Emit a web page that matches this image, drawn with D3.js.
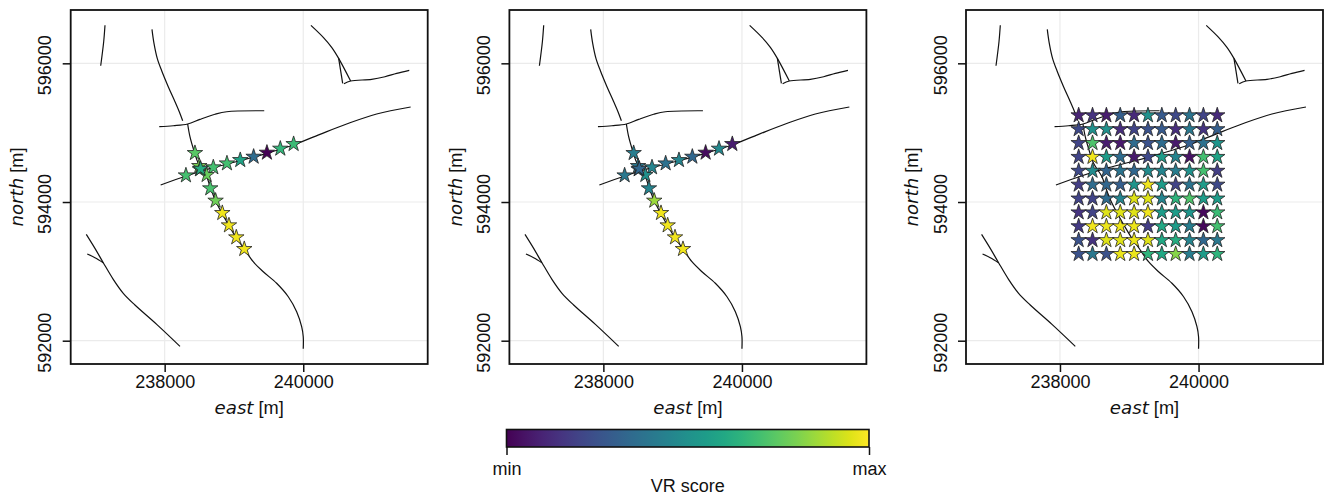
<!DOCTYPE html>
<html>
<head>
<meta charset="utf-8">
<script src="https://cdn.jsdelivr.net/npm/d3@7"></script>
<style>
  html, body { margin: 0; padding: 0; background: #fff; }
  svg { display: block; }
  text { font-family: "Liberation Sans", sans-serif; fill: #111; }
  .ital { font-family: "DejaVu Sans", sans-serif; font-style: italic; }
</style>
</head>
<body>
<svg id="chart" width="1325" height="496"></svg>
<script>
// fault traces, [east, north] in metres
const faultA = [[237139,596548],[237120,596311],[237077,595965]];
const faultB1 = [[237817,596490],[237846,596288],[237893,596072],[237957,595893],[238052,595663],[238149,595446],[238211,595302],[238260,595172]];
const faultB2 = [[238332,595125],[238365,594942],[238427,594725],[238485,594558],[238606,594365],[238664,594197],[238736,594014],[238827,593837],[238928,593658],[239033,593485],[239149,593322],[239278,593139],[239423,592995],[239616,592828],[239784,592634],[239905,592418],[239977,592202],[240000,592058],[240000,591885]];
const faultC = [[237922,595086],[238124,595100],[238332,595125],[238509,595192],[238726,595265],[238895,595302],[239437,595316]];
const faultD = [[237942,594245],[238317,594379],[238701,594495],[239087,594595],[239472,594702],[239856,594822],[240241,594976],[240626,595125],[241059,595269],[241550,595370]];
const faultE = [[240111,596548],[240289,596375],[240410,596231],[240511,596072],[240684,595745]];
const faultE2 = [[240511,596072],[240569,595712]];
const faultE3 = [[240587,595706],[240684,595745],[240987,595769],[241179,595807],[241348,595856],[241530,595899]];
const faultF = [[236869,593534],[236994,593332],[237114,593125],[237258,592885],[237403,592683],[237571,592515],[237885,592236],[238221,591919]];
const faultF2 = [[236883,593250],[236994,593197],[237114,593125]];
const faults = [faultA, faultB1, faultB2, faultC, faultD, faultE, faultE2, faultE3, faultF, faultF2];

// stations along the two profiles
const stationEast = [238307,238702,238899,239091,239284,239476,239669,239861,238437,238500,238606,238658,238735,238832,238928,239034,239149,238509,238519];
const stationNorth = [594384,594500,594557,594605,594653,594711,594769,594836,594706,594519,594389,594197,594019,593841,593663,593490,593322,594471,594480];
const scoreLeft = [0.7,0.7,0.7,0.58,0.35,0,0.66,0.68,0.74,0.8,0.77,0.71,0.78,0.98,0.98,0.98,0.98,0.7,0.62];
const scoreMiddle = [0.4,0.45,0.37,0.45,0.33,0.03,0.47,0.08,0.42,0.4,0.5,0.45,0.85,0.98,0.98,0.98,0.98,0.36,0.33];

// regular station grid of the right panel
const gridEast = [238270,238470,238670,238870,239070,239270,239470,239670,239870,240070,240270];
const gridNorth = [595250,595050,594850,594650,594450,594250,594050,593850,593650,593450,593250];
const gridScore = [
  [0.1,0.15,0.08,0.3,0.12,0.5,0.28,0.22,0.38,0.2,0.12],
  [0.22,0.5,0.5,0.13,0.2,0.25,0.28,0.13,0.4,0.15,0.3],
  [0.2,0.72,0.08,0.07,0.35,0.25,0.35,0.07,0.3,0.37,0.52],
  [0.2,0.98,0.55,0.35,0.07,0.22,0.55,0.45,0.05,0.7,0.58],
  [0.22,0.48,0.32,0.38,0.33,0.48,0.45,0.42,0.5,0.7,0.18],
  [0.18,0.35,0.33,0.3,0.52,0.98,0.55,0.2,0.38,0.55,0.22],
  [0.2,0.2,0.35,0.45,0.95,0.95,0.45,0.65,0.72,0.55,0.55],
  [0.15,0.2,0.95,0.95,0.95,0.98,0.55,0.55,0.52,0.02,0.68],
  [0.17,0.98,0.97,0.97,0.97,0.18,0.6,0.55,0.42,0.02,0.7],
  [0.25,0.15,0.95,0.95,0.97,0.95,0.6,0.62,0.45,0.33,0.4],
  [0.25,0.4,0.25,0.97,0.97,0.65,0.6,0.82,0.42,0.55,0.65]
];

const xTicks = [238000, 240000];
const yTicks = [592000, 594000, 596000];
const cbarTicks = [0, 1];
const cbarLabels = ["min", "max"];

const xDomain = [236644, 241796];
const yDomain = [591664, 596769];
const panelLefts = [70.7, 509.4, 966];
const panelW = 357, panelTop = 10, panelH = 354;

const svg = d3.select("#chart");
const color = d3.scaleSequential(d3.interpolateViridis).domain([0, 1]);
const x = d3.scaleLinear().domain(xDomain).range([0, panelW]);
const y = d3.scaleLinear().domain(yDomain).range([panelH, 0]);
const line = d3.line().x(d => x(d[0])).y(d => y(d[1]));
const star = d3.symbol().type(d3.symbolStar).size(74);

const stationSets = [
  stationEast.map((e, i) => ({ e, n: stationNorth[i], v: scoreLeft[i] })),
  stationEast.map((e, i) => ({ e, n: stationNorth[i], v: scoreMiddle[i] })),
  gridNorth.flatMap((n, r) => gridEast.map((e, c) => ({ e, n, v: gridScore[r][c] })))
];

panelLefts.forEach((left, i) => {
  const g = svg.append("g").attr("transform", `translate(${left},${panelTop})`);

  // grid
  g.selectAll(".gx").data(xTicks).enter().append("line")
    .attr("x1", d => x(d)).attr("x2", d => x(d)).attr("y1", 0).attr("y2", panelH)
    .attr("stroke", "#ebebeb").attr("stroke-width", 1.2);
  g.selectAll(".gy").data(yTicks).enter().append("line")
    .attr("y1", d => y(d)).attr("y2", d => y(d)).attr("x1", 0).attr("x2", panelW)
    .attr("stroke", "#ebebeb").attr("stroke-width", 1.2);

  g.selectAll(".fault").data(faults).enter().append("path")
    .attr("class", "fault")
    .attr("d", line.curve(d3.curveCatmullRom))
    .attr("fill", "none").attr("stroke", "#111").attr("stroke-width", 1.2);

  g.selectAll(".stn").data(stationSets[i]).enter().append("path")
    .attr("class", "stn")
    .attr("d", star)
    .attr("transform", d => `translate(${x(d.e)},${y(d.n)})`)
    .attr("fill", d => color(d.v))
    .attr("stroke", "#222").attr("stroke-width", 0.8);

  g.append("rect").attr("width", panelW).attr("height", panelH)
    .attr("fill", "none").attr("stroke", "#111").attr("stroke-width", 1.8);

  const xAxis = g.append("g").attr("transform", `translate(0,${panelH})`)
    .call(d3.axisBottom(x).tickValues(xTicks).tickSize(8).tickPadding(3).tickFormat(d3.format("d")));
  const yAxis = g.append("g")
    .call(d3.axisLeft(y).tickValues(yTicks).tickSize(8).tickPadding(4).tickFormat(d3.format("d")));
  xAxis.select(".domain").remove();
  yAxis.select(".domain").remove();
  xAxis.selectAll("line").attr("stroke", "#111").attr("stroke-width", 1.5);
  yAxis.selectAll("line").attr("stroke", "#111").attr("stroke-width", 1.5);
  xAxis.selectAll("text").style("font-size", "18px").attr("fill", "#111");
  yAxis.selectAll("text").style("font-size", "18px").attr("fill", "#111")
    .attr("transform", "rotate(-90)")
    .attr("x", -1.5).attr("dy", 0)
    .attr("y", -19.5)
    .attr("text-anchor", "middle");

  const xl = g.append("text").attr("x", panelW / 2).attr("y", panelH + 50)
    .attr("text-anchor", "middle").style("font-size", "18.2px");
  xl.append("tspan").attr("class", "ital").text("east");
  xl.append("tspan").text(" [m]");

  const yl = g.append("text").attr("text-anchor", "middle")
    .attr("transform", `translate(-47.7,${panelH / 2}) rotate(-90)`).style("font-size", "18.2px");
  yl.append("tspan").attr("class", "ital").text("north");
  yl.append("tspan").text(" [m]");
});

// colorbar
const cbarLeft = 506.5, cbarW = 362.5, cbarTop = 429.5, cbarH = 17.5;
const grad = svg.append("defs").append("linearGradient").attr("id", "viridis");
d3.range(0, 1.001, 0.05).forEach(t => {
  grad.append("stop").attr("offset", t).attr("stop-color", color(t));
});
const cbar = svg.append("g").attr("transform", `translate(${cbarLeft},${cbarTop})`);
cbar.append("rect").attr("width", cbarW).attr("height", cbarH)
  .attr("fill", "url(#viridis)").attr("stroke", "#111").attr("stroke-width", 1.6);
const cx = d3.scaleLinear().domain([0, 1]).range([0, cbarW]);
const cAxis = cbar.append("g").attr("transform", `translate(0,${cbarH})`)
  .call(d3.axisBottom(cx).tickValues(cbarTicks).tickSize(8).tickPadding(7).tickFormat((d, i) => cbarLabels[i]));
cAxis.select(".domain").remove();
cAxis.selectAll("line").attr("stroke", "#111").attr("stroke-width", 1.5);
cAxis.selectAll("text").style("font-size", "18px").attr("fill", "#111");
cbar.append("text").attr("x", cbarW / 2).attr("y", 62).attr("text-anchor", "middle")
  .style("font-size", "18px").text("VR score");
</script>
</body>
</html>
